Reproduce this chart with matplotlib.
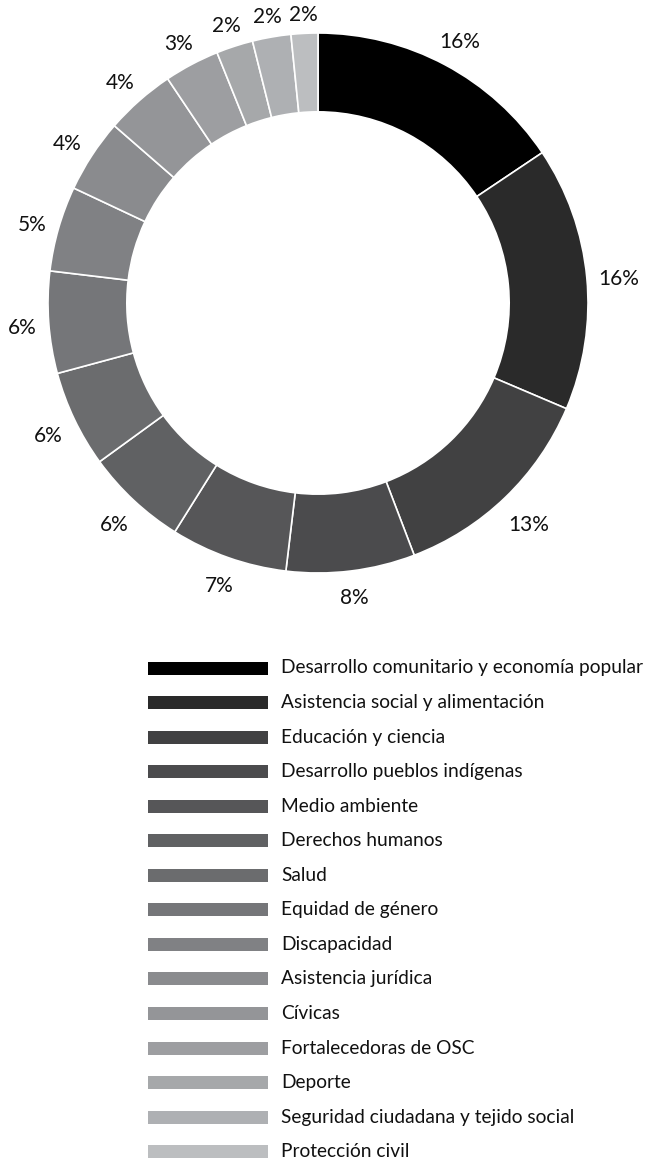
import matplotlib
matplotlib.use("Agg")
import numpy as np
import matplotlib.pyplot as plt
from matplotlib.patches import Rectangle

plt.rcParams['font.family'] = ['Lato', 'DejaVu Sans']

categories = [
    "Desarrollo comunitario y economía popular",
    "Asistencia social y alimentación",
    "Educación y ciencia",
    "Desarrollo pueblos indígenas",
    "Medio ambiente",
    "Derechos humanos",
    "Salud",
    "Equidad de género",
    "Discapacidad",
    "Asistencia jurídica",
    "Cívicas",
    "Fortalecedoras de OSC",
    "Deporte",
    "Seguridad ciudadana y tejido social",
    "Protección civil",
]
values = [15.6, 15.8, 12.8, 7.7, 7.0, 6.1, 5.8, 6.1, 5.1, 4.4, 4.2, 3.3, 2.2, 2.3, 1.6]
pct_labels = ["16%", "16%", "13%", "8%", "7%", "6%", "6%", "6%", "5%", "4%", "4%", "3%", "2%", "2%", "2%"]
colors = ['#000000', '#2a2a2a', '#414142', '#4b4b4d', '#565658', '#606163', '#6b6c6e',
          '#757679', '#808184', '#8a8b8e', '#949598', '#9d9ea1', '#a6a8aa', '#aeb0b3', '#bcbec0']

W, H = 648, 1166
fig = plt.figure(figsize=(W / 100, H / 100), dpi=100)
fig.patch.set_facecolor('white')

# Donut
cx, cy, R = 318, 303, 270
half = 300
ax = fig.add_axes([(cx - half) / W, 1 - (cy + half) / H, 2 * half / W, 2 * half / H])
lim = half / R
ax.set_xlim(-lim, lim)
ax.set_ylim(-lim, lim)
ax.set_aspect('equal')
ax.axis('off')
wedges, _ = ax.pie(values, colors=colors, startangle=90, counterclock=False,
                   wedgeprops=dict(width=0.292, edgecolor='white', linewidth=1.2),
                   radius=1.0, frame=False)
ax.set_xlim(-lim, lim)
ax.set_ylim(-lim, lim)

# percentage labels placed just outside the ring, gap measured from text box
renderer = fig.canvas.get_renderer()
gap = 11.0   # px
shift = 4.0  # px downward
for w, lab in zip(wedges, pct_labels):
    ang = np.deg2rad((w.theta1 + w.theta2) / 2)
    dx, dy = np.cos(ang), np.sin(ang)
    t = ax.text(0, 0, lab, fontsize=15, color='#111111', ha='center', va='center')
    bb = t.get_window_extent(renderer)
    ext = abs(dx) * bb.width / 2 + abs(dy) * bb.height * 0.55
    r = (R + gap + ext) / R
    t.set_position((r * dx, r * dy - shift / R))

# Legend
lax = fig.add_axes([0, 0, 1, 1])
lax.set_xlim(0, W)
lax.set_ylim(H, 0)
lax.axis('off')
y0, dy_row = 668, 34.55
for i, (cat, col) in enumerate(zip(categories, colors)):
    y = y0 + i * dy_row
    lax.add_patch(Rectangle((148, y - 6.5), 120, 13, facecolor=col, edgecolor='none'))
    lax.text(281, y, cat, fontsize=13.75, color='#111111', va='center', ha='left')

fig.savefig("out.png", dpi=100, facecolor='white')
